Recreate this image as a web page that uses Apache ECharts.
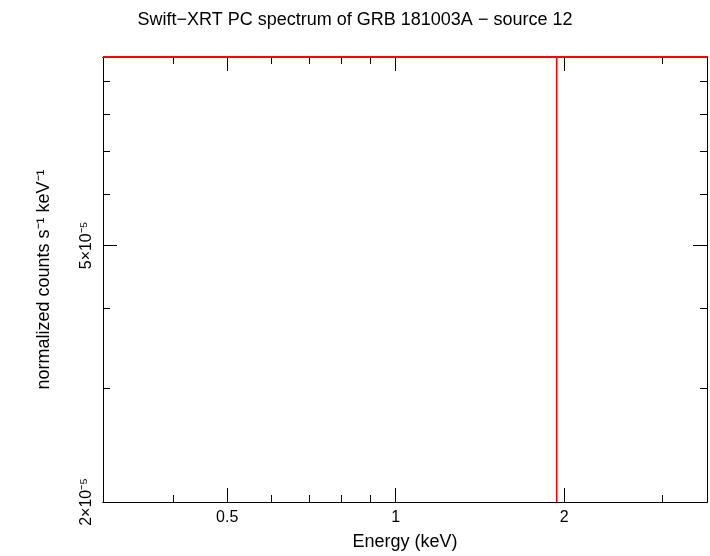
<!DOCTYPE html>
<html><head><meta charset="utf-8">
<script src="https://cdn.jsdelivr.net/npm/echarts@6/dist/echarts.min.js"></script>
<style>html,body{margin:0;padding:0;background:#fff}#c{width:710px;height:556px}</style>
</head><body><div id="c"></div>
<script>
const xRange = [0.3, 3.6];
const yRange = [2e-5, 9.8e-5];
const xMajor = [0.5, 1, 2];
const xMinor = [0.3, 0.4, 0.6, 0.7, 0.8, 0.9, 3];
const yMajor = [2e-5, 5e-5];
const yMinor = [3e-5, 4e-5, 6e-5, 7e-5, 8e-5, 9e-5];
const yLabelText = ["2×10⁻⁵", "5×10⁻⁵"];
// red data: vertical error bar at 1.94 keV, model line at top
const vertLine = [[1.94, 2e-5], [1.94, 9.8e-5]];
const topLine = [[0.3, 9.8e-5], [3.6, 9.8e-5]];

const font = 'Liberation Sans, Arial, sans-serif';
function xAx(pos, show, ticks, len) {
  return {type:'log', logBase:10, min:xRange[0], max:xRange[1], position:pos,
    axisLine:{show:true, onZero:false, lineStyle:{color:'#000', width:1}},
    axisTick:{show:true, inside:true, length:len, customValues:ticks, lineStyle:{color:'#000'}},
    axisLabel:{show:show, customValues:xMajor, color:'#000', fontSize:16, fontFamily:font, margin:8,
      formatter:v=>String(+v.toPrecision(3))},
    splitLine:{show:false}, minorTick:{show:false}};
}
function yAx(pos, show, ticks, len) {
  return {type:'log', logBase:10, min:yRange[0], max:yRange[1], position:pos,
    axisLine:{show:true, onZero:false, lineStyle:{color:'#000', width:1}},
    axisTick:{show:true, inside:true, length:len, customValues:ticks, lineStyle:{color:'#000'}},
    axisLabel:{show:show, customValues:yMajor, rotate:90, color:'#000', fontSize:16, fontFamily:font, margin:8,
      formatter:v=>(v<3e-5?yLabelText[0]:yLabelText[1])},
    splitLine:{show:false}, minorTick:{show:false}};
}
const chart = echarts.init(document.getElementById('c'));
chart.setOption({
  animation:false, backgroundColor:'#fff',
  title:{text:'Swift−XRT PC spectrum of GRB 181003A − source 12', left:'center', top:6,
    textStyle:{fontSize:18, fontWeight:'normal', color:'#000', fontFamily:font}},
  grid:{left:103, right:3, top:57, bottom:53},
  xAxis:[
    Object.assign(xAx('bottom', true, xMajor, 14), {name:'Energy (keV)', nameLocation:'middle', nameGap:31,
      nameTextStyle:{fontSize:18, color:'#000', fontFamily:font}}),
    xAx('top', false, xMajor, 14),
    xAx('bottom', false, xMinor, 7),
    xAx('top', false, xMinor, 7)
  ],
  yAxis:[
    Object.assign(yAx('left', true, yMajor, 14), {name:'normalized counts s⁻¹ keV⁻¹', nameLocation:'middle', nameGap:50,
      nameTextStyle:{fontSize:18, color:'#000', fontFamily:font}}),
    yAx('right', false, yMajor, 14),
    yAx('left', false, yMinor, 7),
    yAx('right', false, yMinor, 7)
  ],
  series:[
    {type:'line', data:vertLine, symbol:'none', lineStyle:{color:'#f00', width:1.5}, xAxisIndex:0, yAxisIndex:0},
    {type:'line', data:topLine, symbol:'none', lineStyle:{color:'#f00', width:2}, xAxisIndex:0, yAxisIndex:0, clip:false}
  ]
});
</script></body></html>
